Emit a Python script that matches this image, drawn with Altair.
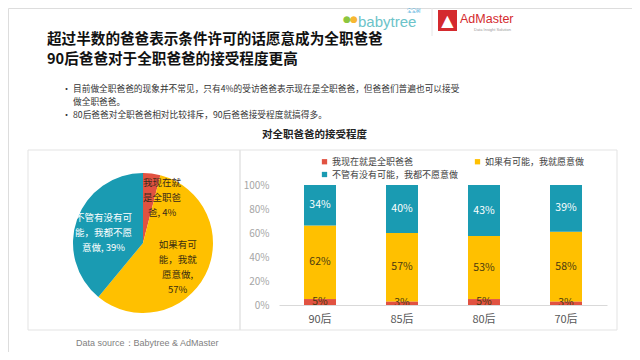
import altair as alt
import pandas as pd

# ---------------- data ----------------
categories = ["我现在就是全职爸爸", "如果有可能，我就愿意做", "不管有没有可能，我都不愿意做"]
colors = ["#E15241", "#FFC000", "#1A9BB2"]

pie_values = [4, 57, 39]
pie_labels = ["我现在就\n是全职爸\n爸, 4%", "如果有可\n能，我就\n愿意做,\n57%", "不管有没有可\n能，我都不愿\n意做, 39%"]

groups = ["90后", "85后", "80后", "70后"]
now_full = [5, 3, 5, 3]
willing = [62, 57, 53, 58]
unwilling = [34, 40, 43, 39]

title_lines = ["超过半数的爸爸表示条件许可的话愿意成为全职爸爸", "90后爸爸对于全职爸爸的接受程度更高"]
bullet_lines = ["目前做全职爸爸的现象并不常见，只有4%的受访爸爸表示现在是全职爸爸，但爸爸们普遍也可以接受",
                "做全职爸爸。",
                "80后爸爸对全职爸爸相对比较排斥，90后爸爸接受程度就搞得多。"]
bar_title = "对全职爸爸的接受程度"
source_text = "Data source：Babytree & AdMaster"

# ---------------- tables ----------------
pie_df = pd.DataFrame({"cat": categories, "value": pie_values, "ord": [0, 1, 2], "label": pie_labels})
rows = []
for i, g in enumerate(groups):
    for k, vals in enumerate([now_full, willing, unwilling]):
        rows.append({"group": g, "cat": categories[k], "ord": k, "value": vals[i]})
bar_df = pd.DataFrame(rows)
one = pd.DataFrame({"d": [0]})

FONT = "Noto Sans CJK SC"
O = 8  # page margin


def px(v):
    return v - O


# legend is laid out column by column: red, teal in column 1, yellow in column 2
legend_order = [categories[0], categories[2], categories[1]]
legend_colors = [colors[0], colors[2], colors[1]]
color_scale = alt.Scale(domain=legend_order, range=legend_colors)
legend = alt.Legend(orient="none", legendX=px(320), legendY=px(157), columns=2, title=None,
                    symbolType="square", symbolSize=28, labelFontSize=9, labelColor="#404040",
                    labelFont=FONT, columnPadding=14, rowPadding=3, labelOffset=3, symbolStrokeWidth=0)

# ---------------- panels ----------------
panels = alt.Chart(one).mark_rect(fillOpacity=0, stroke="#e3e3e3", strokeWidth=1).encode(
    x=alt.value(px(28)), x2=alt.value(px(240)), y=alt.value(px(150)), y2=alt.value(px(330)))
panels2 = alt.Chart(one).mark_rect(fillOpacity=0, stroke="#e3e3e3", strokeWidth=1).encode(
    x=alt.value(px(240)), x2=alt.value(px(617)), y=alt.value(px(150)), y2=alt.value(px(330)))

# ---------------- pie ----------------
theta_scale = alt.Scale(domain=[0, 1], range=[0, 6.283185307179586])
pie_base = (alt.Chart(pie_df)
            .transform_joinaggregate(total="sum(value)")
            .transform_window(cum="sum(value)", sort=[alt.SortField("ord")])
            .transform_calculate(t0="(datum.cum - datum.value) / datum.total",
                                 t1="datum.cum / datum.total",
                                 mid="(datum.cum - datum.value / 2) / datum.total"))
CX, CY = px(143), px(243)
pie = pie_base.mark_arc(outerRadius=70).encode(
    theta=alt.Theta("t0:Q", scale=theta_scale),
    theta2="t1:Q",
    color=alt.Color("cat:N", scale=color_scale, legend=legend),
    x=alt.value(CX), y=alt.value(CY))

label_specs = [
    (categories[0], 48, 13, -12, "#3a2a1a"),
    (categories[1], 40, -1, -16, "#3a2e10"),
    (categories[2], 41, -1, -11, "white"),
]
pie_texts = []
for cat, r, dx, dy, col in label_specs:
    pie_texts.append(
        pie_base.transform_filter(alt.datum.cat == cat)
        .mark_text(radius=r, dx=dx, dy=dy, fontSize=9.5, lineHeight=15, lineBreak="\n",
                   font=FONT, color=col, align="center", baseline="middle")
        .encode(theta=alt.Theta("mid:Q", scale=theta_scale), text="label:N",
                x=alt.value(CX), y=alt.value(CY)))

# ---------------- bars ----------------
bar_base = (alt.Chart(bar_df)
            .transform_stack(stack="value", groupby=["group"], as_=["v0", "v1"],
                             offset="normalize", sort=[alt.SortField("ord")])
            .transform_calculate(mid="(datum.v0 + datum.v1) / 2", lbl="datum.value + '%'"))
x_enc = alt.X("group:N", sort=groups,
              scale=alt.Scale(range=[px(279), px(607)], paddingInner=0, paddingOuter=0),
              axis=alt.Axis(title=None, orient="bottom", offset=-(344 - px(305)), ticks=False,
                            domainColor="#d9d9d9", labelColor="#595959", labelFontSize=11,
                            labelFont=FONT, labelPadding=8, labelAngle=0, zindex=1))
y_scale = alt.Scale(domain=[0, 1], range=[px(305), px(185)], nice=False, zero=True)
bars = bar_base.mark_bar(size=32).encode(
    x=x_enc,
    y=alt.Y("v0:Q", scale=y_scale,
            axis=alt.Axis(title=None, orient="left", offset=-(px(269) + 2), ticks=False, tickSize=0,
                          domain=False, grid=False, values=[0, 0.2, 0.4, 0.6, 0.8, 1.0], format=".0%",
                          labelColor="#a6a6a6", labelFontSize=10, labelPadding=2, labelFont=FONT,
                          zindex=1)),
    y2="v1:Q",
    color=alt.Color("cat:N", scale=color_scale, legend=legend))
bar_text = bar_base.mark_text(fontSize=10.5, font=FONT, baseline="middle").encode(
    x=alt.X("group:N", sort=groups),
    y=alt.Y("mid:Q"),
    text="lbl:N",
    color=alt.condition(alt.datum.ord == 2, alt.value("white"), alt.value("#4a3a10")))


# ---------------- texts ----------------
def txt(s, x, y, size, color="#222", weight="normal", align="left", font=FONT):
    return alt.Chart(one).mark_text(text=s, fontSize=size, color=color, fontWeight=weight,
                                    align=align, baseline="middle", font=font).encode(
        x=alt.value(px(x)), y=alt.value(px(y)))


texts = [
    txt(title_lines[0], 47, 40, 14.6, "#111", "bold"),
    txt(title_lines[1], 47, 60, 14.6, "#111", "bold"),
    txt("•", 62, 89, 9, "#333"),
    txt(bullet_lines[0], 73, 89, 8.7, "#333"),
    txt(bullet_lines[1], 73, 102, 8.7, "#333"),
    txt("•", 62, 115, 9, "#333"),
    txt(bullet_lines[2], 73, 115, 8.7, "#333"),
    txt(bar_title, 262, 135, 10.5, "#222", "bold"),
    txt(source_text, 76, 343, 9, "#7f7f7f", font="Liberation Sans"),
    # logos
    txt("babytree", 358, 22, 15, "#6cc3c9", font="Liberation Sans"),
    txt("宝宝树", 407, 11, 4.5, "#3aa6d8"),
    txt("●", 343, 19, 9, "#8cc63f", font="DejaVu Sans"),
    txt("●", 350, 19, 9, "#f7b731", font="DejaVu Sans"),
    txt("AdMaster", 460, 19, 12.5, "#d42a2e", font="Liberation Sans"),
    txt("Data Insight Solution", 474, 30, 4, "#999", font="Liberation Sans"),
]
sep = alt.Chart(one).mark_rule(color="#e6e6e6").encode(
    x=alt.value(px(432)), y=alt.value(px(8)), y2=alt.value(px(36)))
logo_box = alt.Chart(one).mark_rect(fill="#d42a2e").encode(
    x=alt.value(px(438)), x2=alt.value(px(457)), y=alt.value(px(10)), y2=alt.value(px(31)))
logo_tri = alt.Chart(one).mark_text(text="▲", fontSize=16, color="white", font="DejaVu Sans",
                                    align="center", baseline="middle").encode(
    x=alt.value(px(447.5)), y=alt.value(px(21)))

chart = alt.layer(panels, panels2, pie, *pie_texts, bars, bar_text, sep, logo_box, logo_tri, *texts).properties(
    width=624, height=344, padding=0, autosize=alt.AutoSizeParams(type="none"),
    background="white"
).configure_view(stroke=None).configure(font=FONT)

chart.save("out.html", embed_options={"renderer": "svg", "actions": False})
